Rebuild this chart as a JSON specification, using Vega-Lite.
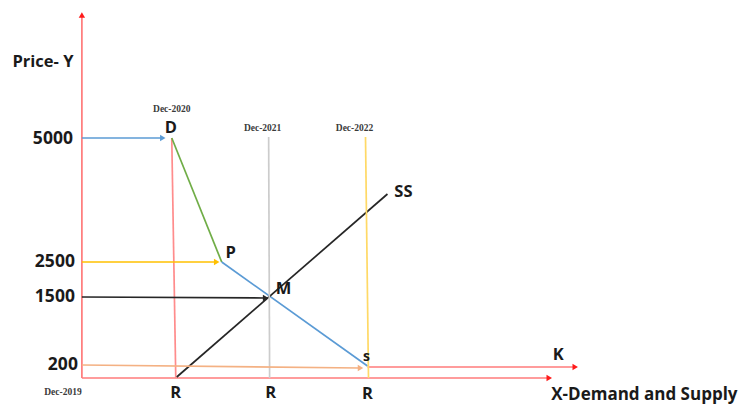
{
  "$schema": "https://vega.github.io/schema/vega-lite/v6.json",
  "width": 738,
  "height": 407,
  "padding": 0,
  "autosize": {"type": "fit", "contains": "padding"},
  "background": "white",
  "config": {"view": {"stroke": null}},
  "datasets": {
    "segs": [
      {"seg": "axis", "x": 0, "y": 0, "x2": 0, "y2": 362},
      {"seg": "axis", "x": 0, "y": 0, "x2": 466, "y2": 0},
      {"seg": "axis", "x": 286, "y": 11, "x2": 492, "y2": 11},
      {"seg": "dline", "x": 90, "y": 240, "x2": 94, "y2": 0},
      {"seg": "p5000", "x": 0, "y": 240, "x2": 80, "y2": 240},
      {"seg": "green", "x": 90, "y": 240, "x2": 140, "y2": 116},
      {"seg": "p2500", "x": 0, "y": 116, "x2": 134, "y2": 116},
      {"seg": "demand", "x": 140, "y": 116, "x2": 286, "y2": 12},
      {"seg": "supply", "x": 95, "y": 1, "x2": 306, "y2": 184},
      {"seg": "p1500", "x": 0, "y": 81, "x2": 183, "y2": 80},
      {"seg": "dec2021", "x": 187, "y": 241, "x2": 188, "y2": 0},
      {"seg": "dec2022", "x": 284, "y": 241, "x2": 287, "y2": 0},
      {"seg": "p200", "x": 0, "y": 13, "x2": 278, "y2": 10}
    ],
    "headsRight": [
      {"seg": "axishead", "x": 468, "y": 0},
      {"seg": "axishead", "x": 494, "y": 11},
      {"seg": "p5000", "x": 81, "y": 240},
      {"seg": "p2500", "x": 135, "y": 116},
      {"seg": "p1500", "x": 184, "y": 80},
      {"seg": "p200", "x": 279, "y": 10}
    ],
    "headsUp": [
      {"seg": "axishead", "x": 0, "y": 363}
    ],
    "bigLabels": [
      {"label": "Price- Y", "x": -39, "y": 316},
      {"label": "D", "x": 89, "y": 250},
      {"label": "P", "x": 149, "y": 125},
      {"label": "M", "x": 202, "y": 89},
      {"label": "SS", "x": 322, "y": 186},
      {"label": "K", "x": 477, "y": 23},
      {"label": "R", "x": 94, "y": -15},
      {"label": "R", "x": 189, "y": -15},
      {"label": "R", "x": 286, "y": -16}
    ],
    "ticks": [
      {"label": "5000", "x": -9, "y": 239},
      {"label": "2500", "x": -7, "y": 116},
      {"label": "1500", "x": -7, "y": 81},
      {"label": "200", "x": -4, "y": 13}
    ],
    "dates": [
      {"label": "Dec-2019", "x": -19, "y": -14},
      {"label": "Dec-2020", "x": 90, "y": 269},
      {"label": "Dec-2021", "x": 181, "y": 250},
      {"label": "Dec-2022", "x": 273, "y": 250}
    ]
  },
  "layer": [
    {
      "data": {"name": "segs"},
      "mark": {"type": "rule", "strokeWidth": 1.7},
      "encoding": {
        "x": {"field": "x", "type": "quantitative", "scale": {"domain": [-82, 656], "nice": false, "zero": false}, "axis": null},
        "y": {"field": "y", "type": "quantitative", "scale": {"domain": [-29, 378], "nice": false, "zero": false}, "axis": null},
        "x2": {"field": "x2"},
        "y2": {"field": "y2"},
        "color": {
          "field": "seg", "type": "nominal", "legend": null,
          "scale": {
            "domain": ["axis", "axishead", "dline", "p5000", "green", "p2500", "demand", "supply", "p1500", "dec2021", "dec2022", "p200"],
            "range": ["#ff7b7b", "#ff1a1a", "#ff8c8c", "#5b9bd5", "#70ad47", "#ffc000", "#5b9bd5", "#262626", "#262626", "#cccccc", "#ffd966", "#f4b183"]
          }
        }
      }
    },
    {
      "data": {"name": "headsRight"},
      "mark": {"type": "point", "shape": "triangle-right", "filled": true, "size": 40, "opacity": 1},
      "encoding": {
        "x": {"field": "x", "type": "quantitative"},
        "y": {"field": "y", "type": "quantitative"},
        "color": {"field": "seg", "type": "nominal", "legend": null}
      }
    },
    {
      "data": {"name": "headsUp"},
      "mark": {"type": "point", "shape": "triangle-up", "filled": true, "size": 40, "opacity": 1},
      "encoding": {
        "x": {"field": "x", "type": "quantitative"},
        "y": {"field": "y", "type": "quantitative"},
        "color": {"field": "seg", "type": "nominal", "legend": null}
      }
    },
    {
      "data": {"name": "bigLabels"},
      "mark": {"type": "text", "font": "Open Sans", "fontWeight": "bold", "fontSize": 16.5, "align": "center", "baseline": "middle", "color": "#1a1a1a"},
      "encoding": {
        "x": {"field": "x", "type": "quantitative"},
        "y": {"field": "y", "type": "quantitative"},
        "text": {"field": "label"}
      }
    },
    {
      "data": {"values": [{"label": "s", "x": 285, "y": 21}]},
      "mark": {"type": "text", "font": "Open Sans", "fontWeight": "bold", "fontSize": 14, "align": "center", "baseline": "middle", "color": "#1a1a1a"},
      "encoding": {
        "x": {"field": "x", "type": "quantitative"},
        "y": {"field": "y", "type": "quantitative"},
        "text": {"field": "label"}
      }
    },
    {
      "data": {"values": [{"label": "X-Demand and Supply", "x": 470, "y": -17}]},
      "mark": {"type": "text", "font": "Open Sans", "fontWeight": "bold", "fontSize": 17, "align": "left", "baseline": "middle", "color": "#1a1a1a"},
      "encoding": {
        "x": {"field": "x", "type": "quantitative"},
        "y": {"field": "y", "type": "quantitative"},
        "text": {"field": "label"}
      }
    },
    {
      "data": {"name": "ticks"},
      "mark": {"type": "text", "font": "Open Sans", "fontWeight": "bold", "fontSize": 17.5, "align": "right", "baseline": "middle", "color": "#1a1a1a"},
      "encoding": {
        "x": {"field": "x", "type": "quantitative"},
        "y": {"field": "y", "type": "quantitative"},
        "text": {"field": "label"}
      }
    },
    {
      "data": {"name": "dates"},
      "mark": {"type": "text", "font": "Liberation Serif", "fontWeight": "bold", "fontSize": 9.5, "align": "center", "baseline": "middle", "color": "#3a3a3a"},
      "encoding": {
        "x": {"field": "x", "type": "quantitative"},
        "y": {"field": "y", "type": "quantitative"},
        "text": {"field": "label"}
      }
    }
  ]
}
